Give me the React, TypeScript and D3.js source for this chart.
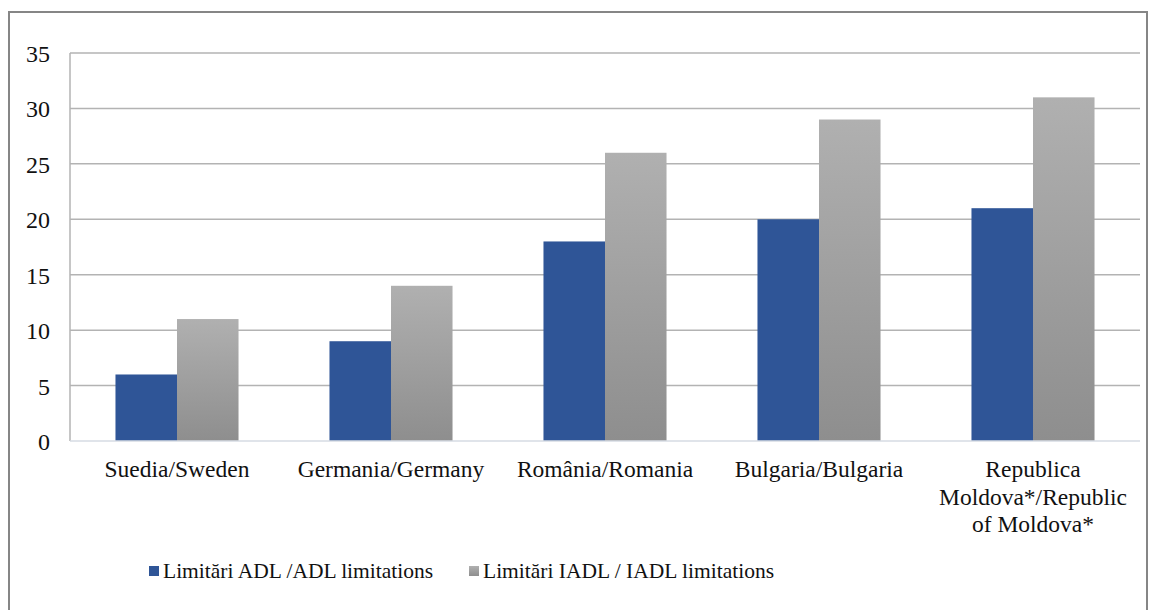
import React, { useEffect, useRef } from 'react';
import * as d3 from 'd3';

const categories = [
  ['Suedia/Sweden'],
  ['Germania/Germany'],
  ['România/Romania'],
  ['Bulgaria/Bulgaria'],
  ['Republica', 'Moldova*/Republic', 'of Moldova*'],
];
const adlValues = [6, 9, 18, 20, 21];
const iadlValues = [11, 14, 26, 29, 31];
const seriesNames = ['Limitări ADL /ADL limitations', 'Limitări IADL / IADL limitations'];
const yTicks = [0, 5, 10, 15, 20, 25, 30, 35];

function App() {
  const ref = useRef<SVGSVGElement>(null);

  useEffect(() => {
    const svg = d3.select(ref.current);
    svg.selectAll('*').remove();
    const font = 'Liberation Serif, Times New Roman, serif';

    const defs = svg.append('defs');
    const grad = defs.append('linearGradient')
      .attr('id', 'grayGrad')
      .attr('x1', 0).attr('y1', 0).attr('x2', 0).attr('y2', 1);
    grad.append('stop').attr('offset', '0%').attr('stop-color', '#b0b0b0');
    grad.append('stop').attr('offset', '100%').attr('stop-color', '#8e8e8e');

    // outer frame
    svg.append('rect')
      .attr('x', 9).attr('y', 12)
      .attr('width', 1138).attr('height', 620)
      .attr('fill', 'none')
      .attr('stroke', '#868686')
      .attr('stroke-width', 2);

    const left = 70, right = 1140, top = 53, bottom = 441;
    const x = d3.scaleBand<number>()
      .domain(d3.range(categories.length))
      .range([left, right])
      .paddingInner(0.425)
      .paddingOuter(0.2125);
    const y = d3.scaleLinear().domain([0, 35]).range([bottom, top]);

    // gridlines
    svg.append('g').selectAll('line')
      .data(yTicks.filter(t => t > 0))
      .enter().append('line')
      .attr('x1', left).attr('x2', right)
      .attr('y1', d => y(d)).attr('y2', d => y(d))
      .attr('stroke', '#b3b3b3').attr('stroke-width', 1.5);

    // y labels
    svg.append('g').selectAll('text')
      .data(yTicks)
      .enter().append('text')
      .attr('x', 50).attr('y', d => y(d) + 9)
      .attr('text-anchor', 'end')
      .attr('font-family', font).attr('font-size', 24)
      .attr('fill', '#111')
      .text(d => d);

    // left axis line
    svg.append('line')
      .attr('x1', left).attr('x2', left)
      .attr('y1', top).attr('y2', bottom)
      .attr('stroke', '#b3b3b3').attr('stroke-width', 1.5);

    const barW = x.bandwidth() / 2;
    const groups = svg.append('g').selectAll('g')
      .data(d3.range(categories.length))
      .enter().append('g');

    groups.append('rect')
      .attr('x', i => x(i)!)
      .attr('y', i => y(adlValues[i]))
      .attr('width', barW)
      .attr('height', i => bottom - y(adlValues[i]))
      .attr('fill', '#2f5597');

    groups.append('rect')
      .attr('x', i => x(i)! + barW)
      .attr('y', i => y(iadlValues[i]))
      .attr('width', barW)
      .attr('height', i => bottom - y(iadlValues[i]))
      .attr('fill', 'url(#grayGrad)');

    // bottom axis
    svg.append('line')
      .attr('x1', left).attr('x2', right)
      .attr('y1', bottom).attr('y2', bottom)
      .attr('stroke', '#d6dbe3').attr('stroke-width', 1.5);

    // category labels
    const step = (right - left) / categories.length;
    categories.forEach((lines, i) => {
      const cx = left + step * i + step / 2;
      const t = svg.append('text')
        .attr('text-anchor', 'middle')
        .attr('font-family', font).attr('font-size', 23.5)
        .attr('fill', '#111');
      lines.forEach((ln, j) => {
        t.append('tspan').attr('x', cx).attr('y', 477 + j * 27.5).text(ln);
      });
    });

    // legend
    const legendX = [149, 469];
    const legendFill = ['#2f5597', 'url(#grayGrad)'];
    seriesNames.forEach((name, i) => {
      svg.append('rect')
        .attr('x', legendX[i]).attr('y', 566)
        .attr('width', 10).attr('height', 10)
        .attr('fill', legendFill[i]);
      svg.append('text')
        .attr('x', legendX[i] + 14).attr('y', 578)
        .attr('font-family', font).attr('font-size', 21.5)
        .attr('fill', '#111')
        .text(name);
    });
  }, []);

  return (
    <svg
      ref={ref}
      width={1153}
      height={610}
      style={{ position: 'fixed', left: 0, top: 0, background: '#fff' }}
    />
  );
}

export default App;
